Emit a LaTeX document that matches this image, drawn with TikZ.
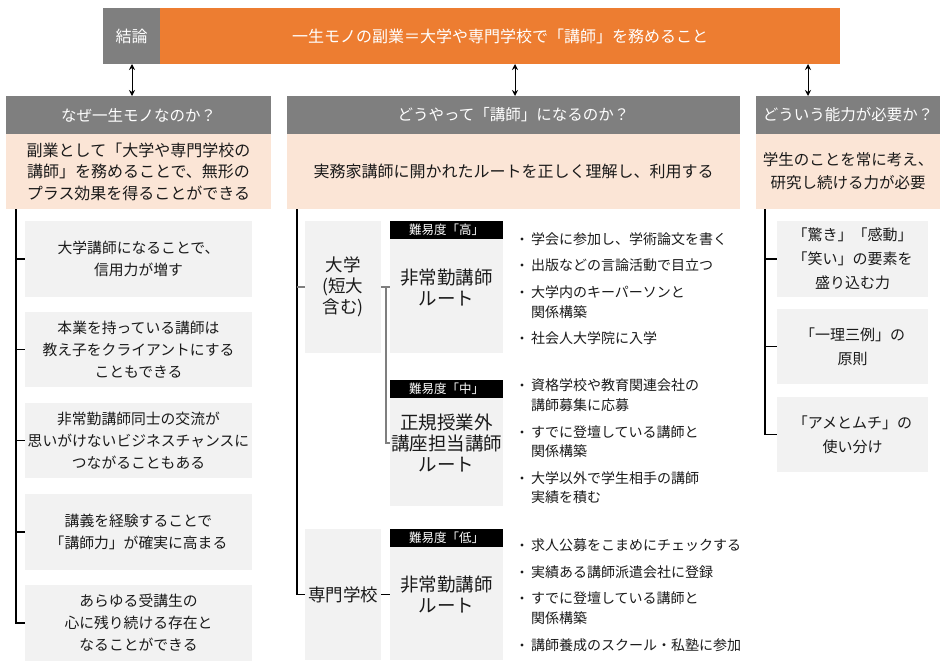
\documentclass[tikz,border=0pt]{standalone}
\usepackage{fontspec}
\setmainfont{Noto Sans CJK JP}
\usetikzlibrary{arrows.meta}
\definecolor{orng}{HTML}{ED7D31}
\definecolor{hgray}{HTML}{7F7F7F}
\definecolor{peach}{HTML}{FBE5D6}
\definecolor{lgray}{HTML}{F2F2F2}
\definecolor{txt}{HTML}{1A1A1A}
\newcommand\rbox[7]{\node[#6, minimum width={(#4-#2)*1pt}, minimum height={(#5-#3)*1pt}] (#1) at ({(#2+#4)/2},{(#3+#5)/2}) {#7};}
\newcommand\fs[2]{\fontsize{#1}{#2}\selectfont}
\begin{document}
\begin{tikzpicture}[x=1pt,y=-1pt,
  base/.style={inner sep=0pt, outer sep=0pt, align=center, text=txt},
  concl/.style={base, fill=hgray, text=white, font=\fs{16}{20}},
  titlebox/.style={base, fill=orng, text=white, font=\fs{16}{20}},
  head/.style={base, fill=hgray, text=white, font=\fs{15.5}{20}},
  peachbox/.style={base, fill=peach, font=\fs{16}{21.5}},
  itembox/.style={base, fill=lgray, font=\fs{14.8}{22}},
  abilbox/.style={base, fill=lgray, font=\fs{15}{24}},
  schoolbox/.style={base, fill=lgray, font=\fs{17.5}{21}},
  routebox/.style={base, fill=lgray, font=\fs{18.5}{21}},
  strip/.style={base, fill=black, text=white, font=\fs{12.5}{15}},
  bul/.style={base, anchor=west, align=left, font=\fs{14}{19.5}},
  dot/.style={circle, fill=txt, inner sep=0pt, minimum size=3.4pt},
  conn/.style={line width=1.2pt, black},
  gconn/.style={line width=1.6pt, hgray},
  dbl/.style={line width=1pt, {Stealth[length=6pt,width=6pt]}-{Stealth[length=6pt,width=6pt]}}
]
\useasboundingbox[fill=white] (0,0) rectangle (940,672);

% top
\rbox{cl}{103}{8}{160}{64}{concl}{結論}
\rbox{tt}{160}{8}{840}{64}{titlebox}{一生モノの副業＝大学や専門学校で「講師」を務めること}

% headers
\rbox{h1}{6}{96}{271}{134}{head}{なぜ一生モノなのか？}
\rbox{p1}{6}{134}{271}{209}{peachbox}{副業として「大学や専門学校の\\講師」を務めることで、無形の\\プラス効果を得ることができる}
\rbox{h2}{287}{96}{740}{134}{head}{どうやって「講師」になるのか？}
\rbox{p2}{287}{134}{740}{209}{peachbox}{実務家講師に開かれたルートを正しく理解し、利用する}
\rbox{h3}{756}{96}{940}{134}{head}{どういう能力が必要か？}
\rbox{p3}{756}{134}{940}{209}{peachbox, font=\fs{15.5}{23}}{学生のことを常に考え、\\研究し続ける力が必要}

% arrows
\coordinate (a1) at (132,64);
\coordinate (a2) at (515,64);
\coordinate (a3) at (808,64);
\draw[dbl] (a1) -- (a1 |- h1.north);
\draw[dbl] (a2) -- (a2 |- h2.north);
\draw[dbl] (a3) -- (a3 |- h3.north);

% column 1
\rbox{b1}{25}{221}{252}{297}{itembox}{大学講師になることで、\\信用力が増す}
\rbox{b2}{25}{312}{252}{387}{itembox}{本業を持っている講師は\\教え子をクライアントにする\\こともできる}
\rbox{b3}{25}{403}{252}{478}{itembox}{非常勤講師同士の交流が\\思いがけないビジネスチャンスに\\つながることもある}
\rbox{b4}{25}{494}{252}{570}{itembox}{講義を経験することで\\「講師力」が確実に高まる}
\rbox{b5}{25}{585}{252}{661}{itembox}{あらゆる受講生の\\心に残り続ける存在と\\なることができる}
\coordinate (c1) at (16,209);
\draw[conn] (c1) |- (b5.west);
\foreach \b in {b1,b2,b3,b4} \draw[conn] (c1 |- \b.west) -- (\b.west);

% column 3
\rbox{d1}{777}{221}{928}{297}{abilbox}{「驚き」「感動」\\「笑い」の要素を\\盛り込む力}
\rbox{d2}{777}{309}{928}{384}{abilbox}{「一理三例」の\\原則}
\rbox{d3}{777}{397}{928}{472}{abilbox}{「アメとムチ」の\\使い分け}
\coordinate (c3) at (765,209);
\draw[conn] (c3) |- (d3.west);
\foreach \b in {d1,d2} \draw[conn] (c3 |- \b.west) -- (\b.west);

% column 2
\rbox{sd}{305}{221}{381}{353}{schoolbox}{大学\\(短大\\含む)}
\rbox{ss}{305}{529}{381}{660}{schoolbox}{専門学校}
\rbox{r1}{390}{221}{503}{353}{routebox}{非常勤講師\\ルート}
\rbox{r2}{390}{380}{503}{506}{routebox}{正規授業外\\講座担当講師\\ルート}
\rbox{r3}{390}{529}{503}{660}{routebox}{非常勤講師\\ルート}
\rbox{s1}{390}{221}{503}{239}{strip}{難易度「高」}
\rbox{s2}{390}{380}{503}{398}{strip}{難易度「中」}
\rbox{s3}{390}{529}{503}{547}{strip}{難易度「低」}
\coordinate (c2) at (297,209);
\draw[conn] (c2) |- (ss.west);
\draw[gconn] (c2 |- sd.west) -- (sd.west);
\coordinate (g2) at (386,287);
\draw[gconn] (sd.east) -- (r1.west);
\draw[gconn] (g2) |- (r2.west);
\draw[conn] (ss.east) -- (r3.west);

% bullets
\newcommand\bitem[4]{\node[bul] (#1) at (531,#2) {#4}; \node[dot] at (522,#3) {};}
\bitem{i1}{239}{239}{学会に参加し、学術論文を書く}
\bitem{i2}{265}{265}{出版などの言論活動で目立つ}
\bitem{i3}{302}{292}{大学内のキーパーソンと\\関係構築}
\bitem{i4}{338}{338}{社会人大学院に入学}
\bitem{j1}{395}{385}{資格学校や教育関連会社の\\講師募集に応募}
\bitem{j2}{441.5}{432}{すでに登壇している講師と\\関係構築}
\bitem{j3}{487.5}{478}{大学以外で学生相手の講師\\実績を積む}
\bitem{k1}{545}{545}{求人公募をこまめにチェックする}
\bitem{k2}{572}{572}{実績ある講師派遣会社に登録}
\bitem{k3}{608}{598}{すでに登壇している講師と\\関係構築}
\bitem{k4}{645}{645}{講師養成のスクール・私塾に参加}
\end{tikzpicture}
\end{document}
